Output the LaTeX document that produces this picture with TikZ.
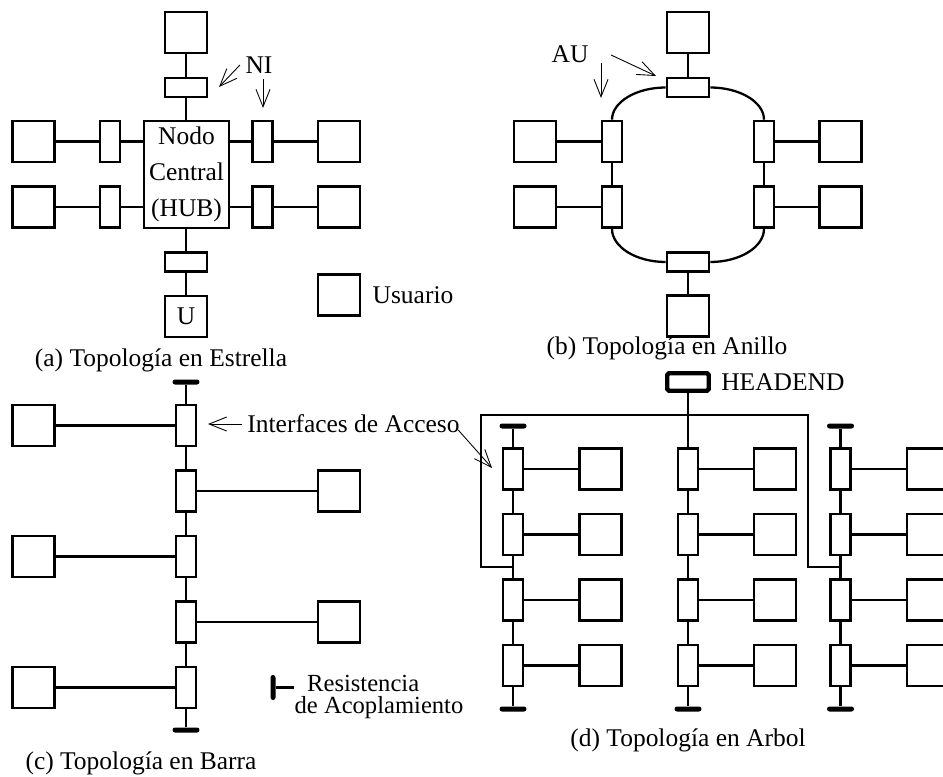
\documentclass[tikz,border=0pt]{standalone}
\usepackage{fontspec}
\setmainfont{Liberation Serif}
\usetikzlibrary{positioning,calc,arrows.meta}

\begin{document}
\begin{tikzpicture}
        [x=0.02cm,y=-0.02cm,
        font=\fontsize{14.5}{17}\selectfont,
        every node/.style={inner sep=0pt},
        usr/.style={draw,fill=white,line width=1.5pt,minimum width=0.84cm,minimum height=0.82cm},
        ifh/.style={draw,fill=white,line width=1.5pt,minimum width=0.84cm,minimum height=0.38cm},
        ifv/.style={draw,fill=white,line width=1.5pt,minimum width=0.40cm,minimum height=0.82cm},
        hub/.style={draw,line width=1.5pt,minimum width=1.70cm,minimum height=2.14cm,align=center,font=\fontsize{14.5}{20.7}\selectfont},
        headend/.style={draw,line width=2.5pt,rounded corners=1pt,minimum width=0.83cm,minimum height=0.35cm},
        term/.style={fill,rounded corners=0.05cm,minimum width=0.54cm,minimum height=0.1cm},
        termv/.style={term,minimum width=0.1cm,minimum height=0.5cm},
        tag/.style={inner sep=3pt},
        link/.style={line width=1.3pt},
        ptr/.style={line width=0.5pt,-{Straight Barb[length=3.5mm,width=2.8mm]}}]
        \useasboundingbox (0,0) rectangle (943,777);
        \clip (0,0) rectangle (943,777);
        % (a) estrella
        \node[hub] (hub) at (186.5,174.5) {Nodo\\Central\\(HUB)};
        \node[usr] (su0) at (186,32.5) {};
        \node[ifh] (si0) at (186,87.5) {};
        \node[ifh] (si5) at (186,262) {};
        \node[usr] (su5) at (186,316.5) {U};
        \foreach \n/\y in {1/141.5,2/207}{
          \node[ifv] (sl\n) at (110,\y) {};
          \node[usr] (slu\n) at (33.5,\y) {};
          \node[ifv] (sr\n) at (262.5,\y) {};
          \node[usr] (sru\n) at (339,\y) {};
          \draw[link] (slu\n) -- (sl\n) -- (sl\n.east -| hub.west);
          \draw[link] (sru\n) -- (sr\n) -- (sr\n.west -| hub.east);
        }
        \draw[link] (su0) -- (si0) -- (si0 |- hub.north);
        \draw[link] (si5 |- hub.south) -- (si5) -- (su5);
        \node[usr] (leg) at (339,295) {};
        \node[right=0.22cm of leg] (legtxt) {Usuario};
        \node[tag] (ni) at (259,65) {NI};
        \coordinate (niA) at (219,87);
        \coordinate (niB) at (263,108);
        \draw[ptr] (ni.west) -- (niA);
        \draw[ptr] (ni.south -| niB) -- (niB);
        \node (capa) at (161,360) {(a) Topología en Estrella};
        % (b) anillo
        \node[usr] (ru0) at (688,32.5) {};
        \node[ifh] (ri0) at (688,87.5) {};
        \node[ifh] (ri5) at (688,262) {};
        \node[usr] (ru5) at (688,316) {};
        \foreach \n/\y in {1/141.5,2/207}{
          \node[ifv] (rl\n) at (612,\y) {};
          \node[usr] (rlu\n) at (535,\y) {};
          \node[ifv] (rr\n) at (764,\y) {};
          \node[usr] (rru\n) at (840.5,\y) {};
          \draw[link] (rlu\n) -- (rl\n);
          \draw[link] (rru\n) -- (rr\n);
        }
        \draw[link] (ru0) -- (ri0);
        \draw[link] (ri5) -- (ru5);
        \draw[link] (rl1) -- (rl2);
        \draw[link] (rr1) -- (rr2);
        \draw[link] (ri0.west) .. controls ($(ri0.west)!.55!(rl1 |- ri0)$) and ($(rl1.north)!.55!(rl1 |- ri0)$) .. (rl1.north);
        \draw[link] (ri0.east) .. controls ($(ri0.east)!.55!(rr1 |- ri0)$) and ($(rr1.north)!.55!(rr1 |- ri0)$) .. (rr1.north);
        \draw[link] (rl2.south) .. controls ($(rl2.south)!.55!(rl2 |- ri5)$) and ($(ri5.west)!.55!(rl2 |- ri5)$) .. (ri5.west);
        \draw[link] (rr2.south) .. controls ($(rr2.south)!.55!(rr2 |- ri5)$) and ($(ri5.east)!.55!(rr2 |- ri5)$) .. (ri5.east);
        \node (au) at (570,54) {AU};
        \coordinate (auS) at (611,55);
        \coordinate (auA) at (656,76);
        \coordinate (auB) at (601,98);
        \draw[ptr] (auS) -- (auA);
        \draw[ptr] (au.south east -| auB) -- (auB);
        \node (capb) at (667,348) {(b) Topología en Anillo};
        % (c) barra
        \node[term] (ct) at (186,382) {};
        \node[term] (cb) at (186,730) {};
        \foreach \n/\y in {1/425.5,2/491,3/556.5,4/622,5/687.5}
          \node[ifv] (ci\n) at (186,\y) {};
        \foreach \n in {1,3,5}{
          \node[usr] (cu\n) at (33.5,0 |- ci\n) {};
          \draw[link] (cu\n) -- (ci\n);
        }
        \foreach \n in {2,4}{
          \node[usr] (cu\n) at (339,0 |- ci\n) {};
          \draw[link] (cu\n) -- (ci\n);
        }
        \draw[link] (ct) -- (ci1) -- (ci2) -- (ci3) -- (ci4) -- (ci5) -- (cb);
        \node[tag] (acc) at (353.5,424) {Interfaces de Acceso};
        \coordinate (accL) at (208,424);
        \coordinate (accR) at (492,468);
        \draw[ptr] (acc.west) -- (accL);
        \draw[ptr] ([xshift=-4pt,yshift=5pt]acc.south east) -- (accR);
        \node[termv] (rleg) at (273,687.5) {};
        \node[align=center,font=\fontsize{14}{12.5}\selectfont] (rtxt) at (379,697) {Resistencia\hspace*{18pt}\\de Acoplamiento};
        \draw[link] (rleg) -- (rleg -| rtxt.west);
        \node (capc) at (141,763) {(c) Topología en Barra};
        % (d) arbol
        \node[headend] (he) at (688,382) {};
        \node[right=0.2cm of he] (hetxt) {HEADEND};
        \foreach \c/\x/\ux in {1/513/600.5,2/688/775,3/840.5/928}{
          \foreach \r/\y in {1/469,2/534.5,3/600,4/665.5}{
            \node[ifv] (d\c i\r) at (\x,\y) {};
            \node[usr] (d\c u\r) at (\ux,\y) {};
            \draw[link] (d\c i\r) -- (d\c u\r);
          }
          \node[term] (d\c b) at (\x,709) {};
        }
        \node[term] (d1t) at (513,426) {};
        \node[term] (d3t) at (840.5,426) {};
        \draw[link] (d1t) -- (d1i1) -- (d1i2) -- (d1i3) -- (d1i4) -- (d1b);
        \draw[link] (he) -- (d2i1) -- (d2i2) -- (d2i3) -- (d2i4) -- (d2b);
        \draw[link] (d3t) -- (d3i1) -- (d3i2) -- (d3i3) -- (d3i4) -- (d3b);
        \coordinate (dh) at (688,415);
        \coordinate (dj1) at ($(d1i2.south)!.5!(d1i3.north)$);
        \coordinate (dj3) at ($(d3i2.south)!.5!(d3i3.north)$);
        \draw[link] (dj1) -- ++(-32,0) |- (dh) -| ($(dj3)+(-32.5,0)$) -- (dj3);
        \node (capd) at (688,740) {(d) Topología en Arbol};
\end{tikzpicture}
\end{document}
